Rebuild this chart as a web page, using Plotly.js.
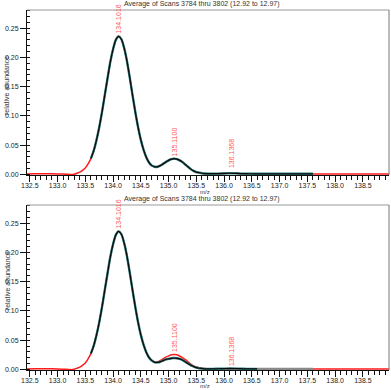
<!DOCTYPE html>
<html>
<head>
<meta charset="utf-8">
<script src="https://cdn.plot.ly/plotly-3.0.1.min.js"></script>
<style>
html,body{margin:0;padding:0;background:#fff;}
#chart{width:391px;height:390px;}
</style>
</head>
<body>
<div id="chart"></div>
<script>
// ---- data ----
const titleText = "Average of Scans 3784 thru 3802 (12.92 to 12.97)";
const xTitle = "m/z";
const yTitle = "relative abundance";

const mzGrid = [132.45,132.6,132.8,133.0,133.1,133.2,133.25,133.3,
  133.35,133.4,133.45,133.5,133.55,133.6,133.65,133.7,133.75,133.8,133.85,133.9,133.95,
  134.0,134.05,134.1,134.15,134.2,134.25,134.3,134.35,134.4,134.45,134.5,134.55,134.6,134.65,134.7,134.75,134.8,134.85,134.9,134.95,
  135.0,135.05,135.1,135.15,135.2,135.25,135.3,135.35,135.4,135.45,135.5,135.55,135.6,135.65,135.7,
  135.8,135.9,136.0,136.1,136.2,136.3,136.4,136.5,136.6,136.7,136.8,
  137.0,137.2,137.4,137.6,137.8,138.0,138.2,138.4,138.6,138.8,138.97];

const redTop = [0.0008,0.001,0.001,0.0008,0.0005,0.0001,-0.0002,0.0004,
  0.002,0.004,0.007,0.011,0.018,0.027,0.040,0.058,0.080,0.106,0.135,0.164,0.192,
  0.214,0.230,0.236,0.231,0.216,0.194,0.166,0.136,0.107,0.081,0.059,0.042,0.029,0.020,0.015,0.013,0.013,0.015,0.018,0.021,
  0.024,0.026,0.027,0.026,0.024,0.021,0.017,0.013,0.009,0.006,0.004,0.003,0.002,0.0015,0.001,
  0.001,0.0012,0.0016,0.002,0.0018,0.0013,0.001,0.0009,0.0008,0.0008,0.0008,
  0.0008,0.0008,0.0008,0.0008,0.0007,0.0008,0.0007,0.0008,0.0007,0.0008,0.0008];

const blackTop = [null,null,null,null,null,null,null,null,
  null,null,null,null,null,0.027,0.040,0.058,0.080,0.106,0.135,0.164,0.192,
  0.214,0.230,0.236,0.231,0.216,0.194,0.166,0.136,0.107,0.081,0.059,0.042,0.029,0.020,0.015,0.013,0.013,0.015,0.018,0.021,
  0.024,0.026,0.027,0.026,0.024,0.021,0.017,0.013,0.009,0.006,0.004,0.003,0.002,0.0015,0.0012,
  0.0012,0.0013,0.0016,0.002,0.0018,0.0014,0.0012,0.0011,0.001,0.001,0.001,
  0.001,0.001,0.001,0.001,null,null,null,null,null,null,null];

const redBottom = [0.0008,0.001,0.001,0.0008,0.0004,-0.0001,-0.0004,0.0002,
  0.002,0.004,0.007,0.011,0.018,0.027,0.040,0.058,0.080,0.106,0.135,0.164,0.192,
  0.214,0.230,0.236,0.231,0.216,0.194,0.166,0.136,0.107,0.081,0.059,0.042,0.029,0.020,0.015,0.013,0.013,0.015,0.018,0.021,
  0.023,0.025,0.0255,0.025,0.023,0.020,0.017,0.013,0.009,0.006,0.004,0.003,0.002,0.0015,0.001,
  0.001,0.0011,0.0013,0.0015,0.0014,0.0012,0.001,0.0009,0.0008,0.0008,0.0008,
  0.0008,0.0008,0.0008,0.0008,0.0007,0.0008,0.0007,0.0008,0.0007,0.0008,0.0008];

const blackBottom = [null,null,null,null,null,null,null,null,
  null,null,null,null,null,0.027,0.040,0.058,0.080,0.106,0.135,0.164,0.192,
  0.214,0.230,0.236,0.231,0.216,0.194,0.166,0.136,0.107,0.081,0.059,0.042,0.029,0.020,0.015,0.012,0.012,0.013,0.015,0.017,
  0.018,0.019,0.0195,0.019,0.018,0.016,0.013,0.010,0.007,0.005,0.003,0.002,0.0015,0.001,0.001,
  0.001,0.0011,0.0013,0.0015,0.0014,0.0012,0.001,0.001,0.001,null,null,
  null,null,null,null,null,null,null,null,null,null,null];

const grayBottom = [null,null,null,null,null,null,null,null,
  null,null,null,null,null,null,null,null,null,null,null,null,null,
  null,null,null,null,null,null,null,null,null,null,null,null,null,null,null,null,null,null,null,null,
  null,null,null,null,null,null,null,null,null,null,null,null,null,null,null,
  null,null,null,null,null,null,null,null,0.001,0.001,0.001,
  0.001,0.001,0.001,0.001,null,null,null,null,null,null,null];

const peakMz = [134.1016, 135.1100, 136.1368];
const peakLabels = ["134.1016", "135.1100", "136.1368"];
const peakAbundTop = [0.236, 0.026, 0.006];
const peakAbundBottom = [0.236, 0.025, 0.001];

const xTickVals = [132.5,133.0,133.5,134.0,134.5,135.0,135.5,136.0,136.5,137.0,137.5,138.0,138.5];
const yTickVals = [0.00,0.05,0.10,0.15,0.20,0.25];

// ---- styles ----
const FONT = "Liberation Sans, Arial, sans-serif";
const RED = "#ff1a1a";
const TEAL = "#2f7c7c";
const BLACK = "#0a0a0a";

function lineTrace(y, color, width, xa, ya) {
  return {x: mzGrid, y: y, type: 'scatter', mode: 'lines', xaxis: xa, yaxis: ya,
    line: {color: color, width: width, shape: 'spline', smoothing: 0.6},
    connectgaps: false, hoverinfo: 'skip', showlegend: false};
}

const traces = [
  lineTrace(redTop, RED, 1.5, 'x', 'y'),
  lineTrace(blackTop, TEAL, 2.4, 'x', 'y'),
  lineTrace(blackTop, BLACK, 1.2, 'x', 'y'),
  lineTrace(redBottom, RED, 1.5, 'x2', 'y2'),
  lineTrace(blackBottom, TEAL, 2.4, 'x2', 'y2'),
  lineTrace(blackBottom, BLACK, 1.2, 'x2', 'y2'),
  lineTrace(grayBottom, '#8a8a8a', 2.2, 'x2', 'y2'),
];

function xAxis(anchor) {
  return {anchor: anchor, domain: [0, 1], range: [132.45, 138.97],
    tickmode: 'array', tickvals: xTickVals, ticktext: xTickVals.map(v => v.toFixed(1)),
    ticks: 'outside', ticklen: 6, tickwidth: 1, tickcolor: '#111',
    ticklabelstandoff: -2,
    minor: {tickmode: 'linear', tick0: 132.5, dtick: 0.1, ticks: 'outside', ticklen: 4, tickwidth: 1, tickcolor: '#111', showgrid: false},
    showline: true, linecolor: '#111', linewidth: 1,
    showgrid: false, zeroline: false, fixedrange: true,
    tickfont: {family: FONT, size: 7, color: '#222'}};
}
function yAxis(anchor, domain) {
  return {anchor: anchor, domain: domain, range: [-0.001, 0.281],
    tickmode: 'array', tickvals: yTickVals, ticktext: yTickVals.map(v => v.toFixed(2)),
    ticks: 'outside', ticklen: 6, tickwidth: 1, tickcolor: '#111',
    minor: {tickmode: 'linear', tick0: 0, dtick: 0.01, ticks: 'inside', ticklen: 3, tickwidth: 1, tickcolor: '#111', showgrid: false},
    showline: true, linecolor: '#111', linewidth: 1,
    showgrid: false, zeroline: false, fixedrange: true,
    tickfont: {family: FONT, size: 7, color: '#222'}};
}

const annotations = [];
function addText(text, x, y, extra) {
  annotations.push(Object.assign({text: text, x: x, y: y, xref: 'paper', yref: 'paper',
    showarrow: false, xanchor: 'center', yanchor: 'middle', borderpad: 0,
    font: {family: FONT, size: 7, color: '#333'}}, extra || {}));
}
addText(titleText, 0.4834, 1.0167);
addText(titleText, 0.4834, 0.475);
addText(xTitle, 0.4917, 0.4958, {font: {family: FONT, size: 6, color: '#333'}});
addText(xTitle, 0.4917, -0.0458, {font: {family: FONT, size: 6, color: '#333'}});
addText(yTitle, -0.055, 0.789, {textangle: -90});
addText(yTitle, -0.055, 0.247, {textangle: -90});

function addPeaks(abund, xref, yref) {
  for (let i = 0; i < peakMz.length; i++) {
    annotations.push({text: peakLabels[i], x: peakMz[i], y: abund[i], xref: xref, yref: yref,
      showarrow: false, textangle: -90, xanchor: 'center', yanchor: 'bottom', yshift: 2,
      borderpad: 0, font: {family: FONT, size: 7, color: '#ff5a5a'}});
  }
}
addPeaks(peakAbundTop, 'x', 'y');
addPeaks(peakAbundBottom, 'x2', 'y2');

const shapes = [];
['', '2'].forEach(s => {
  shapes.push({type: 'line', xref: 'x' + s + ' domain', yref: 'y' + s + ' domain', x0: 0, x1: 1, y0: 1, y1: 1,
    line: {color: '#999', width: 1}});
  shapes.push({type: 'line', xref: 'x' + s + ' domain', yref: 'y' + s + ' domain', x0: 1, x1: 1, y0: 0, y1: 1,
    line: {color: '#777', width: 1}});
});

const layout = {
  width: 391, height: 390,
  margin: {l: 27, r: 2, t: 10, b: 20},
  paper_bgcolor: '#fff', plot_bgcolor: '#fff',
  showlegend: false,
  xaxis: xAxis('y'),
  yaxis: yAxis('x', [0.5417, 1]),
  xaxis2: xAxis('y2'),
  yaxis2: yAxis('x2', [0, 0.4583]),
  annotations: annotations,
  shapes: shapes,
  font: {family: FONT, size: 7, color: '#222'}
};

Plotly.newPlot('chart', traces, layout, {displayModeBar: false, staticPlot: true});
</script>
</body>
</html>
